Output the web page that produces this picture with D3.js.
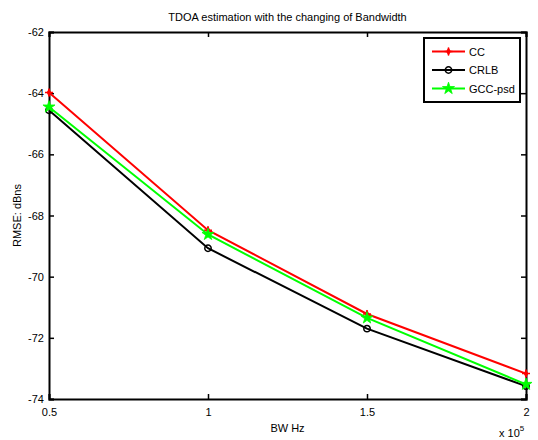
<!DOCTYPE html>
<html lang="en">
<head>
<meta charset="utf-8">
<title>TDOA estimation with the changing of Bandwidth</title>
<script src="https://cdn.jsdelivr.net/npm/d3@7"></script>
<style>
  body { margin: 0; background: #fff; }
  text { font-family: "Liberation Sans", Arial, sans-serif; fill: #000; }
</style>
</head>
<body>
<script>
// data (x in units of 1e5 Hz)
var bw = [0.5, 1, 1.5, 2];
var cc = [-63.98, -68.48, -71.22, -73.17];
var crlb = [-64.56, -69.07, -71.70, -73.58];
var gccPsd = [-64.45, -68.62, -71.35, -73.52];
var xTicks = [0.5, 1, 1.5, 2];
var yTicks = [-74, -72, -70, -68, -66, -64, -62];

var w = 538, h = 440;
// plot box edges (window.top is reserved, so prefixed names)
var pLeft = 49, pRight = 526, pTop = 32, pBottom = 399;

var svg = d3.select("body").append("svg")
    .attr("width", w)
    .attr("height", h);

var x = d3.scaleLinear().domain([0.5, 2]).range([pLeft, pRight]);
var y = d3.scaleLinear().domain([-74, -62]).range([pBottom, pTop]);

// box + inward ticks
var xAxis = d3.axisBottom(x).tickValues(xTicks).tickSize(-5).tickPadding(9)
    .tickFormat(function(d) { return String(d); });
var yAxis = d3.axisLeft(y).tickValues(yTicks).tickSize(-5).tickPadding(5)
    .tickFormat(function(d) { return String(d); });

var gx = svg.append("g").attr("transform", "translate(0," + pBottom + ")").call(xAxis);
var gy = svg.append("g").attr("transform", "translate(" + pLeft + ",0)").call(yAxis);
var gxt = svg.append("g").attr("transform", "translate(0," + pTop + ")")
    .call(d3.axisTop(x).tickValues(xTicks).tickSize(-5).tickFormat(""));
var gyr = svg.append("g").attr("transform", "translate(" + pRight + ",0)")
    .call(d3.axisRight(y).tickValues(yTicks).tickSize(-5).tickFormat(""));

[gx, gy, gxt, gyr].forEach(function(g) {
    g.select(".domain").attr("stroke", "#000").attr("stroke-width", 2);
    g.selectAll(".tick line").attr("stroke", "#000").attr("stroke-width", 1.5);
    g.selectAll(".tick text").attr("font-size", 11)
        .attr("font-family", "Liberation Sans, Arial, sans-serif");
});

var series = [
    { name: "CC", values: cc, color: "#ff0000", marker: "plus" },
    { name: "CRLB", values: crlb, color: "#000000", marker: "circle" },
    { name: "GCC-psd", values: gccPsd, color: "#00ff00", marker: "star" }
];

var line = d3.line()
    .x(function(d) { return x(d[0]); })
    .y(function(d) { return y(d[1]); });

function drawMarker(g, type, color) {
    if (type === "plus") {
        g.append("path").attr("d", d3.symbol().type(d3.symbolDiamond).size(20)())
            .attr("fill", color);
        g.append("path").attr("d", "M-4,0H4M0,-4V4")
            .attr("stroke", color).attr("stroke-width", 1.5);
    } else if (type === "circle") {
        g.append("circle").attr("r", 3.2)
            .attr("fill", "none").attr("stroke", color).attr("stroke-width", 1.5);
    } else {
        g.append("path").attr("d", d3.symbol().type(d3.symbolStar).size(45)())
            .attr("fill", color).attr("stroke", color).attr("stroke-width", 0.8);
    }
}

series.forEach(function(s) {
    var pts = bw.map(function(b, i) { return [b, s.values[i]]; });
    svg.append("path")
        .attr("d", line(pts))
        .attr("fill", "none")
        .attr("stroke", s.color)
        .attr("stroke-width", 2);
    pts.forEach(function(p) {
        var g = svg.append("g").attr("transform", "translate(" + x(p[0]) + "," + y(p[1]) + ")");
        drawMarker(g, s.marker, s.color);
    });
});

// title and labels
svg.append("text")
    .attr("x", (pLeft + pRight) / 2).attr("y", 21)
    .attr("text-anchor", "middle").attr("font-size", 11)
    .text("TDOA estimation with the changing of Bandwidth");

svg.append("text")
    .attr("x", (pLeft + pRight) / 2).attr("y", 432)
    .attr("text-anchor", "middle").attr("font-size", 11)
    .text("BW Hz");

svg.append("text")
    .attr("transform", "translate(21," + (pTop + pBottom) / 2 + ") rotate(-90)")
    .attr("text-anchor", "middle").attr("font-size", 11)
    .text("RMSE: dBns");

var sci = svg.append("text").attr("x", 499).attr("y", 437).attr("font-size", 11);
sci.append("tspan").text("x 10");
sci.append("tspan").attr("dy", -6).attr("font-size", 8).text("5");

// legend
var lg = svg.append("g").attr("transform", "translate(424,38)");
lg.append("rect").attr("width", 96).attr("height", 64)
    .attr("fill", "#fff").attr("stroke", "#000").attr("stroke-width", 2);
series.forEach(function(s, i) {
    var ly = 13.5 + i * 18.5;
    lg.append("line").attr("x1", 8).attr("x2", 41).attr("y1", ly).attr("y2", ly)
        .attr("stroke", s.color).attr("stroke-width", 2);
    var m = lg.append("g").attr("transform", "translate(24.5," + ly + ")");
    drawMarker(m, s.marker, s.color);
    lg.append("text").attr("x", 45).attr("y", ly + 4).attr("font-size", 11).text(s.name);
});
</script>
</body>
</html>
